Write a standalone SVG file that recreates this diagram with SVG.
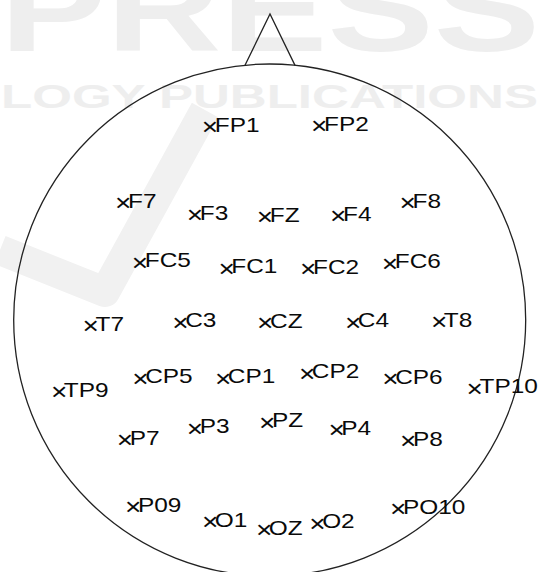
<svg xmlns="http://www.w3.org/2000/svg" width="540" height="572" viewBox="0 0 540 572">
<style>
.wm{font-family:"Liberation Sans",Arial,sans-serif;font-weight:bold;fill:#eeeeee}
.band{fill:none;stroke:#f1f1f1;stroke-width:30;stroke-linejoin:round}
.head{fill:none;stroke:#222;stroke-width:1.3}
.lbl{font-family:"Liberation Sans",Arial,sans-serif;font-size:20px;fill:#0a0a0a}
.x{font-size:23px;letter-spacing:-2.8px}
</style>
<rect width="540" height="572" fill="#fff"/>
<g id="watermark">
<text class="wm" x="0" y="51" font-size="120" textLength="540" lengthAdjust="spacingAndGlyphs">PRESS</text>
<text class="wm" x="1" y="107.5" font-size="34" textLength="537" lengthAdjust="spacingAndGlyphs">LOGY PUBLICATIONS</text>
<polyline class="band" points="0,250 105,292 205,110"/>
</g>
<g id="head">
<circle class="head" cx="269.7" cy="320" r="256"/>
<polyline class="head" points="245,65.2 270,14 295,65.4"/>
</g>
<g id="connectors"></g>
<g id="FP1" transform="translate(214.7,131.5) scale(1.22,1)"><text class="lbl" x="-10.6"><tspan class="x" dy="3.3">×</tspan><tspan dy="-3.3">FP1</tspan></text></g>
<g id="FP2" transform="translate(324,130.5) scale(1.22,1)"><text class="lbl" x="-10.6"><tspan class="x" dy="3.3">×</tspan><tspan dy="-3.3">FP2</tspan></text></g>
<g id="F7" transform="translate(128,207.5) scale(1.22,1)"><text class="lbl" x="-10.6"><tspan class="x" dy="3.3">×</tspan><tspan dy="-3.3">F7</tspan></text></g>
<g id="F3" transform="translate(199.7,220) scale(1.22,1)"><text class="lbl" x="-10.6"><tspan class="x" dy="3.3">×</tspan><tspan dy="-3.3">F3</tspan></text></g>
<g id="FZ" transform="translate(269.7,221.7) scale(1.22,1)"><text class="lbl" x="-10.6"><tspan class="x" dy="3.3">×</tspan><tspan dy="-3.3">FZ</tspan></text></g>
<g id="F4" transform="translate(343,220.5) scale(1.22,1)"><text class="lbl" x="-10.6"><tspan class="x" dy="3.3">×</tspan><tspan dy="-3.3">F4</tspan></text></g>
<g id="F8" transform="translate(412.5,207.5) scale(1.22,1)"><text class="lbl" x="-10.6"><tspan class="x" dy="3.3">×</tspan><tspan dy="-3.3">F8</tspan></text></g>
<g id="FC5" transform="translate(144.7,267.3) scale(1.22,1)"><text class="lbl" x="-10.6"><tspan class="x" dy="3.3">×</tspan><tspan dy="-3.3">FC5</tspan></text></g>
<g id="FC1" transform="translate(231.3,273.3) scale(1.22,1)"><text class="lbl" x="-10.6"><tspan class="x" dy="3.3">×</tspan><tspan dy="-3.3">FC1</tspan></text></g>
<g id="FC2" transform="translate(313,274) scale(1.22,1)"><text class="lbl" x="-10.6"><tspan class="x" dy="3.3">×</tspan><tspan dy="-3.3">FC2</tspan></text></g>
<g id="FC6" transform="translate(394.7,268.3) scale(1.22,1)"><text class="lbl" x="-10.6"><tspan class="x" dy="3.3">×</tspan><tspan dy="-3.3">FC6</tspan></text></g>
<g id="T7" transform="translate(95.5,330.7) scale(1.22,1)"><text class="lbl" x="-10.6"><tspan class="x" dy="3.3">×</tspan><tspan dy="-3.3">T7</tspan></text></g>
<g id="C3" transform="translate(185.2,327.3) scale(1.22,1)"><text class="lbl" x="-10.6"><tspan class="x" dy="3.3">×</tspan><tspan dy="-3.3">C3</tspan></text></g>
<g id="CZ" transform="translate(270,327.5) scale(1.22,1)"><text class="lbl" x="-10.6"><tspan class="x" dy="3.3">×</tspan><tspan dy="-3.3">CZ</tspan></text></g>
<g id="C4" transform="translate(357.8,327.3) scale(1.22,1)"><text class="lbl" x="-10.6"><tspan class="x" dy="3.3">×</tspan><tspan dy="-3.3">C4</tspan></text></g>
<g id="T8" transform="translate(443.8,326.7) scale(1.22,1)"><text class="lbl" x="-10.6"><tspan class="x" dy="3.3">×</tspan><tspan dy="-3.3">T8</tspan></text></g>
<g id="TP9" transform="translate(63.8,396.7) scale(1.22,1)"><text class="lbl" x="-10.6"><tspan class="x" dy="3.3">×</tspan><tspan dy="-3.3">TP9</tspan></text></g>
<g id="CP5" transform="translate(145.2,383.3) scale(1.22,1)"><text class="lbl" x="-10.6"><tspan class="x" dy="3.3">×</tspan><tspan dy="-3.3">CP5</tspan></text></g>
<g id="CP1" transform="translate(227.8,383.3) scale(1.22,1)"><text class="lbl" x="-10.6"><tspan class="x" dy="3.3">×</tspan><tspan dy="-3.3">CP1</tspan></text></g>
<g id="CP2" transform="translate(311.8,378.3) scale(1.22,1)"><text class="lbl" x="-10.6"><tspan class="x" dy="3.3">×</tspan><tspan dy="-3.3">CP2</tspan></text></g>
<g id="CP6" transform="translate(395.2,384) scale(1.22,1)"><text class="lbl" x="-10.6"><tspan class="x" dy="3.3">×</tspan><tspan dy="-3.3">CP6</tspan></text></g>
<g id="TP10" transform="translate(479.5,393.3) scale(1.22,1)"><text class="lbl" x="-10.6"><tspan class="x" dy="3.3">×</tspan><tspan dy="-3.3">TP10</tspan></text></g>
<g id="P7" transform="translate(129.7,445) scale(1.22,1)"><text class="lbl" x="-10.6"><tspan class="x" dy="3.3">×</tspan><tspan dy="-3.3">P7</tspan></text></g>
<g id="P3" transform="translate(199.7,433.3) scale(1.22,1)"><text class="lbl" x="-10.6"><tspan class="x" dy="3.3">×</tspan><tspan dy="-3.3">P3</tspan></text></g>
<g id="PZ" transform="translate(272,427.3) scale(1.22,1)"><text class="lbl" x="-10.6"><tspan class="x" dy="3.3">×</tspan><tspan dy="-3.3">PZ</tspan></text></g>
<g id="P4" transform="translate(341.3,435) scale(1.22,1)"><text class="lbl" x="-10.6"><tspan class="x" dy="3.3">×</tspan><tspan dy="-3.3">P4</tspan></text></g>
<g id="P8" transform="translate(413,446) scale(1.22,1)"><text class="lbl" x="-10.6"><tspan class="x" dy="3.3">×</tspan><tspan dy="-3.3">P8</tspan></text></g>
<g id="P09" transform="translate(138,511.7) scale(1.22,1)"><text class="lbl" x="-10.6"><tspan class="x" dy="3.3">×</tspan><tspan dy="-3.3">P09</tspan></text></g>
<g id="O1" transform="translate(214.8,526.7) scale(1.22,1)"><text class="lbl" x="-10.6"><tspan class="x" dy="3.3">×</tspan><tspan dy="-3.3">O1</tspan></text></g>
<g id="OZ" transform="translate(268.8,535) scale(1.22,1)"><text class="lbl" x="-10.6"><tspan class="x" dy="3.3">×</tspan><tspan dy="-3.3">OZ</tspan></text></g>
<g id="O2" transform="translate(322.1,528.3) scale(1.22,1)"><text class="lbl" x="-10.6"><tspan class="x" dy="3.3">×</tspan><tspan dy="-3.3">O2</tspan></text></g>
<g id="PO10" transform="translate(403,514) scale(1.22,1)"><text class="lbl" x="-10.6"><tspan class="x" dy="3.3">×</tspan><tspan dy="-3.3">PO10</tspan></text></g>
</svg>
